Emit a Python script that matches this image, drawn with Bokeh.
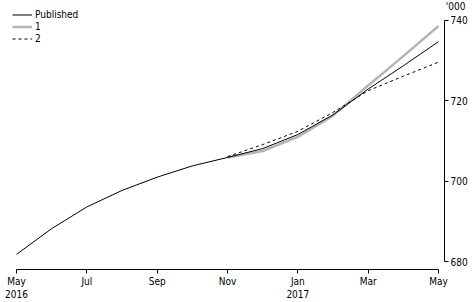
from bokeh.plotting import figure
from bokeh.models import Range1d, FixedTicker, Legend, LegendItem, Title
from bokeh.embed import file_html
from bokeh.resources import INLINE

months = ["May\n2016", "Jun", "Jul", "Aug", "Sep", "Oct", "Nov", "Dec", "Jan\n2017", "Feb", "Mar", "Apr", "May"]
published = [681.8, 688.2, 693.6, 697.7, 701.0, 703.8, 705.9, 708.1, 711.6, 716.5, 722.9, 728.7, 734.7]
series1_months = [6, 7, 8, 9, 10, 11, 12]
series1 = [705.9, 707.5, 711.0, 716.3, 723.8, 731.1, 738.6]
series2_months = [6, 7, 8, 9, 10, 11, 12]
series2 = [706.1, 709.1, 712.4, 717.1, 722.5, 726.1, 729.6]
y_ticks = [680, 700, 720, 740]

FONT = "'Liberation Sans Narrow', 'DejaVu Sans Condensed', sans-serif"
FS = "10px"
x = list(range(len(months)))

p = figure(width=472, height=302, output_backend="svg", toolbar_location=None,
           x_range=Range1d(-0.1137, 12.17), y_range=Range1d(678.04, 742.69),
           y_axis_location="right", min_border_left=12, min_border_right=28,
           min_border_top=0, min_border_bottom=30)
p.outline_line_color = None
p.xgrid.visible = False
p.ygrid.visible = False
p.background_fill_color = "white"

p.add_layout(Title(text="'000", align="right", standoff=-4, offset=-21,
                   text_font=FONT, text_font_size=FS, text_font_style="normal",
                   text_color="black"), "above")

r1 = p.line(series1_months, series1, line_color="#b4b4b4", line_width=2.5)
r0 = p.line(x, published, line_color="black", line_width=1)
r2 = p.line(series2_months, series2, line_color="black", line_width=1, line_dash="3 3")

xa = p.xaxis[0]
xa.ticker = FixedTicker(ticks=[0, 2, 4, 6, 8, 10, 12])
xa.major_label_overrides = {i: months[i] for i in range(len(months))}
xa.bounds = (0, 12)
xa.minor_tick_line_color = None
xa.major_tick_in = 0
xa.major_tick_out = 4
xa.axis_line_color = "black"
xa.major_label_text_font = FONT
xa.major_label_text_font_size = FS
xa.major_label_text_color = "black"
xa.major_label_standoff = 2

ya = p.yaxis[0]
ya.ticker = FixedTicker(ticks=y_ticks)
ya.bounds = (680, 740)
ya.minor_tick_line_color = None
ya.major_tick_in = 0
ya.major_tick_out = 4
ya.axis_line_color = "black"
ya.major_label_text_font = FONT
ya.major_label_text_font_size = FS
ya.major_label_text_color = "black"
ya.major_label_standoff = 2

legend = Legend(items=[LegendItem(label="Published", renderers=[r0]),
                       LegendItem(label="1", renderers=[r1]),
                       LegendItem(label="2", renderers=[r2])],
                location="top_left", orientation="vertical",
                label_text_font=FONT, label_text_font_size=FS, label_text_color="black",
                glyph_width=20, glyph_height=9, label_height=9, spacing=1,
                padding=0, margin=0, border_line_color=None, background_fill_alpha=0,
                label_standoff=3)
p.add_layout(legend)

open("out.html", "w").write(file_html(p, INLINE))
